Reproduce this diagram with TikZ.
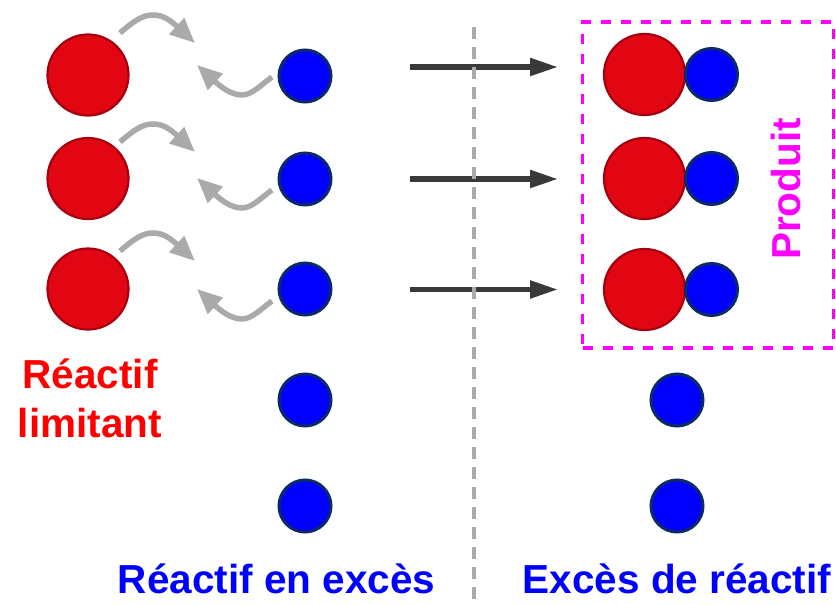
\documentclass[tikz,border=0pt]{standalone}
\usepackage{fontspec}
\setmainfont{Liberation Sans}
\usetikzlibrary{arrows.meta,calc}
\definecolor{redfill}{HTML}{E20613}
\definecolor{redline}{HTML}{A5000F}
\definecolor{bluefill}{HTML}{0000FF}
\definecolor{blueline}{HTML}{0B2A66}
\definecolor{grayarrow}{HTML}{AAAAAA}
\definecolor{darkarrow}{HTML}{3B3838}
\definecolor{magentabox}{HTML}{FF00FF}
\begin{document}
\begin{tikzpicture}[x=1pt,y=-1pt,
  bigatom/.style={circle,fill=redfill,draw=redline,line width=2.2pt,minimum size=81pt,inner sep=0pt},
  smallatom/.style={circle,fill=bluefill,draw=blueline,line width=3pt,minimum size=52pt,inner sep=0pt},
  grayarr/.style={draw=grayarrow,line width=5.5pt,-{Triangle[length=25pt,width=21pt]}},
  darkarr/.style={draw=darkarrow,line width=5.3pt,-{Triangle[length=28pt,width=17pt]}},
  labeltext/.style={font=\bfseries\fontsize{40.5}{49}\selectfont,inner sep=0pt},
]
\useasboundingbox (0,0) rectangle (836,605);
% left column
\node[bigatom] (r1) at (88,75) {};
\node[bigatom] (r2) at (88,178.5) {};
\node[bigatom] (r3) at (88,289) {};
\node[smallatom] (b1) at (305,76) {};
\node[smallatom] (b2) at (305,179) {};
\node[smallatom] (b3) at (305,289) {};
\node[smallatom] (b4) at (305,400) {};
\node[smallatom] (b5) at (305,506) {};
% right column
\node[bigatom] (p1) at (644.5,74.5) {};
\node[bigatom] (p2) at (644.5,178.5) {};
\node[bigatom] (p3) at (644.5,289.5) {};
\node[smallatom] (q1) at (711.5,74.5) {};
\node[smallatom] (q2) at (711.5,178.5) {};
\node[smallatom] (q3) at (711.5,289.5) {};
\node[smallatom] (e1) at (677,400) {};
\node[smallatom] (e2) at (677,506) {};
% gray curved arrows
\foreach \k/\du/\dl in {1/0/0,2/109/113,3/218/224}{
  \coordinate (us\k) at (120,33+\du);
  \coordinate (um\k) at (153,15+\du);
  \coordinate (ut\k) at (195,43+\du);
  \coordinate (ls\k) at (272,77+\dl);
  \coordinate (lm\k) at (242,95+\dl);
  \coordinate (lt\k) at (197,65+\dl);
  \draw[grayarr] (us\k) .. controls ($(us\k)+(15,-13)$) and ($(um\k)+(-10,0)$) .. (um\k)
     .. controls ($(um\k)+(10,0)$) and ($(ut\k)+(-25,-23)$) .. (ut\k);
  \draw[grayarr] (ls\k) .. controls ($(ls\k)+(-10,7)$) and ($(lm\k)+(10,0)$) .. (lm\k)
     .. controls ($(lm\k)+(-10,0)$) and ($(lt\k)+(25,23)$) .. (lt\k);
}
% dark arrows
\foreach \k/\y in {1/67,2/179,3/289.5}{
  \coordinate (as\k) at (410,\y);
  \coordinate (at\k) at (558,\y);
  \draw[darkarr] (as\k) -- (at\k);
}
% dashed separator
\coordinate (sepTop) at (474,27);
\coordinate (sepBot) at (474,605);
\draw[grayarrow,line width=3.3pt,dash pattern=on 12pt off 8pt] (sepTop) -- (sepBot);
% product box
\node[draw=magentabox,line width=3.2pt,dash pattern=on 10pt off 10pt,minimum width=251pt,minimum height=326pt,inner sep=0pt] (box) at (708,185) {};
\node[labeltext,text=magentabox,rotate=90,anchor=base] (prod) at (800,189) {Produit};
% labels
\node[labeltext,text=red,align=center,anchor=base] (lim) at (90,437) {Réactif\\limitant};
\node[labeltext,text=bluefill,anchor=base] (exc) at (276.5,593) {Réactif en excès};
\node[labeltext,text=bluefill,anchor=base] (exr) at (677,593) {Excès de réactif};
\end{tikzpicture}
\end{document}
